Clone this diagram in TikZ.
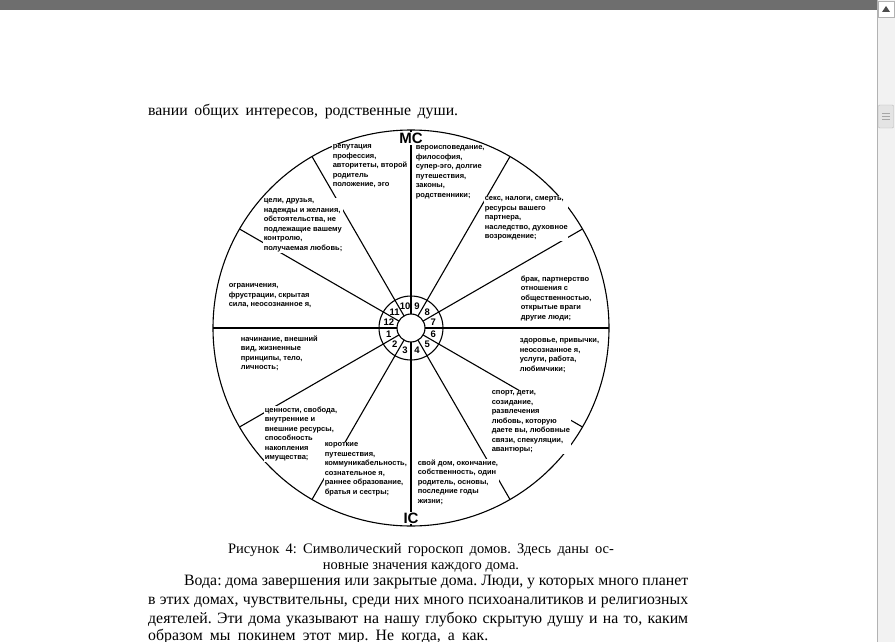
\documentclass[tikz,border=0pt]{standalone}
\usepackage{fontspec}
\usepackage{tikz}
\usepackage{xcolor}
\usetikzlibrary{arrows.meta,calc,positioning}
\setmainfont{Liberation Serif}
\newfontfamily\wheelfam{Liberation Sans}
\frenchspacing
\definecolor{ChromeGray}{HTML}{6E6E6E}
\definecolor{TrackGray}{HTML}{F2F2F2}
\definecolor{ThumbGray}{HTML}{E4E4E4}
\tikzset{
  bodyline/.style={anchor=base west, inner sep=0pt, font=\fontsize{15.8}{19}\selectfont},
  capline/.style={anchor=base, inner sep=0pt, font=\fontsize{14.5}{16}\selectfont},
  housetext/.style={anchor=north west, align=left, inner sep=0.6pt, fill=white, font=\wheelfam\bfseries\fontsize{7.5}{9.5}\selectfont},
  ringnum/.style={inner sep=0pt, font=\wheelfam\bfseries\fontsize{9.5}{10}\selectfont},
  axislabel/.style={fill=white, inner sep=1pt, font=\wheelfam\bfseries\fontsize{15}{15}\selectfont},
  wheelline/.style={line width=1.1pt, draw=black}
}

\begin{document}
\begin{tikzpicture}[x=1pt, y=-1pt]
  \useasboundingbox (0,0) rectangle (895,642);
  \fill[white] (0,0) rectangle (895,642);
  % window chrome
  \fill[ChromeGray] (0,0) rectangle (877,10);
  \fill[TrackGray] (877,0) rectangle (895,642);
  \draw[gray!60] (877,0) -- (877,642);
  \draw[gray!60, fill=white] (878,1) rectangle (894,17);
  \fill[black!70] (882,12) -- (890,12) -- (886,6) -- cycle;
  \draw[gray!55, fill=ThumbGray, rounded corners=1pt] (878.5,105) rectangle (893.5,128);
  \foreach \gy in {113,116,119} {
    \draw[gray!70] (882,\gy) -- (890,\gy);
  }

  \node[bodyline] (prevline) at (148,115) {\makebox[310pt][s]{вании общих интересов, родственные души.}};

  % wheel
  \coordinate (ctr) at (411,328);
  \begin{scope}[shift={(ctr)}, y=1pt]
    \draw[wheelline] (0,0) circle (198);
    \draw[wheelline] (0,0) circle (32);
    \draw[wheelline] (0,0) circle (14);
    \foreach \a in {0,30,...,330} {
      \draw[wheelline] (\a:14) -- (\a:198);
    }
    \foreach \n in {1,...,12} {
      \pgfmathsetmacro{\ang}{195+30*(\n-1)}
      \node[ringnum] (r\n) at (\ang:23) {\n};
    }
  \end{scope}

  \node[axislabel] (mc) at (411,138.5) {MC};
  \node[axislabel] (ic) at (411,518) {IC};

  \node[housetext] (h10) at (332,144) {репутация\\профессия,\\авторитеты, второй\\родитель\\положение, эго};
  \node[housetext] (h9) at (415,145) {вероисповедание,\\философия,\\супер-эго, долгие\\путешествия,\\законы,\\родственники;};
  \node[housetext] (h8) at (484,196) {секс, налоги, смерть,\\ресурсы вашего\\партнера,\\наследство, духовное\\возрождение;};
  \node[housetext] (h11) at (263,198) {цели, друзья,\\надежды и желания,\\обстоятельства, не\\подлежащие вашему\\контролю,\\получаемая любовь;};
  \node[housetext] (h7) at (520,275) {брак, партнерство\\отношения с\\общественностью,\\открытые враги\\другие люди;};
  \node[housetext] (h12) at (228,283) {ограничения,\\фрустрации, скрытая\\сила, неосознанное я,};
  \node[housetext] (h1) at (240,335) {начинание, внешний\\вид, жизненные\\принципы, тело,\\личность;};
  \node[housetext] (h6) at (519,338) {здоровье, привычки,\\неосознанное я,\\услуги, работа,\\любимчики;};
  \node[housetext] (h2) at (264,406) {ценности, свобода,\\внутренние и\\внешние ресурсы,\\способность\\накопления\\имущества;};
  \node[housetext] (h5) at (491,390) {спорт, дети,\\созидание,\\развлечения\\любовь, которую\\даете вы, любовные\\связи, спекуляции,\\авантюры;};
  \node[housetext] (h3) at (324,442) {короткие\\путешествия,\\коммуникабельность,\\сознательное я,\\раннее образование,\\братья и сестры;};
  \node[housetext] (h4) at (417,459) {свой дом, окончание,\\собственность, один\\родитель, основы,\\последние годы\\жизни;};

  % caption and text
  \node[capline] (cap1) at (421,553) {\makebox[386pt][s]{Рисунок 4: Символический гороскоп домов. Здесь даны ос-}};
  \node[capline] (cap2) at (421,569) {новные значения каждого дома.};
  \node[bodyline] (par1) at (184,585.5) {\makebox[504pt][s]{Вода: дома завершения или закрытые дома. Люди, у которых много планет}};
  \node[bodyline] (par2) at (148,604.5) {\makebox[540pt][s]{в этих домах, чувствительны, среди них много психоаналитиков и религиозных}};
  \node[bodyline] (par3) at (148,623) {\makebox[540pt][s]{деятелей. Эти дома указывают на нашу глубоко скрытую душу и на то, каким}};
  \node[bodyline] (par4) at (148,640) {\makebox[340pt][s]{образом мы покинем этот мир. Не когда, а как.}};
\end{tikzpicture}
\end{document}
